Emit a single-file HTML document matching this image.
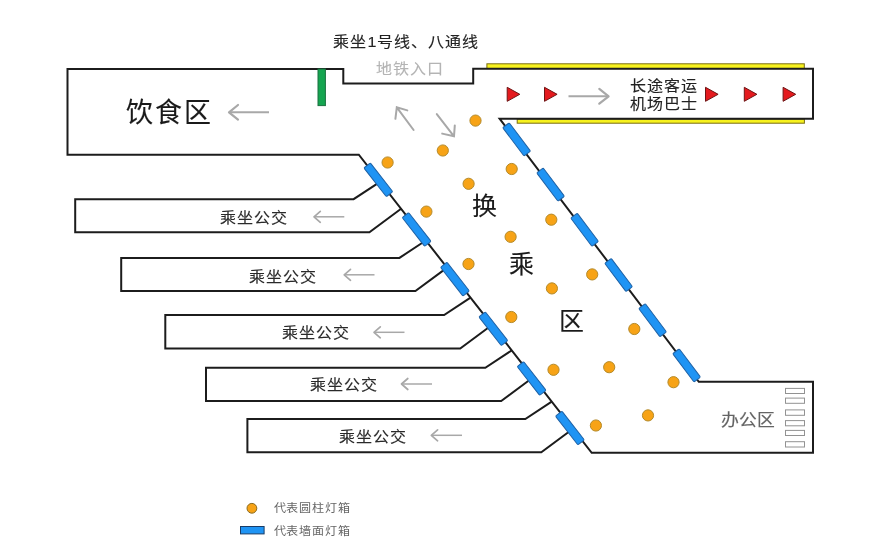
<!DOCTYPE html>
<html lang="zh-CN"><head><meta charset="utf-8"><title>换乘区示意图</title>
<style>html,body{margin:0;padding:0;background:#fff;width:881px;height:558px;overflow:hidden}svg{display:block;will-change:transform}text{font-family:"Liberation Sans",sans-serif;stroke:currentColor;stroke-width:0.12px}</style>
</head><body>
<svg width="881" height="558" viewBox="0 0 881 558">
<rect width="881" height="558" fill="#fff"/>
<rect x="486.9" y="63.8" width="317.4" height="4.8" fill="#f7f21e" stroke="#7a6c10" stroke-width="1"/>
<rect x="517.2" y="119.2" width="287.2" height="4.0" fill="#f7f21e" stroke="#7a6c10" stroke-width="1"/>
<path d="M67.5 154.7 L67.5 69 L343.3 69 L343.3 83.4 L473.2 83.4 L473.2 68.8 L813 68.8 L813 118.7 L499.6 118.7 L698.8 381.8 L813 381.8 L813 452.8 L591.7 452.8 L358.8 154.7 Z" fill="none" stroke="#1c1c1c" stroke-width="2" stroke-linejoin="miter"/>
<path d="M380.0 181.8 L353.6 199.2 L75.2 199.2 L75.2 232.3 L369.4 232.3 L401.1 208.8" fill="none" stroke="#1c1c1c" stroke-width="2"/>
<path d="M425.8 240.5 L399.4 257.9 L121.2 257.9 L121.2 291.1 L415.4 291.1 L447.1 267.6" fill="none" stroke="#1c1c1c" stroke-width="2"/>
<path d="M470.5 297.7 L444.1 315.1 L165.3 315.1 L165.3 348.5 L460.2 348.5 L491.9 325.0" fill="none" stroke="#1c1c1c" stroke-width="2"/>
<path d="M511.7 350.4 L485.3 367.8 L206 367.8 L206 401 L501.2 401 L532.9 377.5" fill="none" stroke="#1c1c1c" stroke-width="2"/>
<path d="M551.7 401.6 L525.3 419 L247.4 419 L247.4 452.3 L541.3 452.3 L573.0 428.8" fill="none" stroke="#1c1c1c" stroke-width="2"/>
<rect x="318" y="69" width="7.4" height="36.6" fill="#15a550" stroke="#1b7040" stroke-width="1"/>
<rect x="-18.2" y="-4.1" width="36.5" height="8.2" rx="1.2" fill="#1f94f4" stroke="#1f62a6" stroke-width="1" transform="translate(378.3 179.8) rotate(52.04)"/>
<rect x="-18.2" y="-4.1" width="36.5" height="8.2" rx="1.2" fill="#1f94f4" stroke="#1f62a6" stroke-width="1" transform="translate(416.6 229.4) rotate(52.04)"/>
<rect x="-18.2" y="-4.1" width="36.5" height="8.2" rx="1.2" fill="#1f94f4" stroke="#1f62a6" stroke-width="1" transform="translate(454.9 279.1) rotate(52.04)"/>
<rect x="-18.2" y="-4.1" width="36.5" height="8.2" rx="1.2" fill="#1f94f4" stroke="#1f62a6" stroke-width="1" transform="translate(493.3 328.7) rotate(52.04)"/>
<rect x="-18.2" y="-4.1" width="36.5" height="8.2" rx="1.2" fill="#1f94f4" stroke="#1f62a6" stroke-width="1" transform="translate(531.6 378.4) rotate(52.04)"/>
<rect x="-18.2" y="-4.1" width="36.5" height="8.2" rx="1.2" fill="#1f94f4" stroke="#1f62a6" stroke-width="1" transform="translate(569.9 428.0) rotate(52.04)"/>
<rect x="-17.7" y="-4.1" width="35.4" height="8.2" rx="1.2" fill="#1f94f4" stroke="#1f62a6" stroke-width="1" transform="translate(516.6 139.4) rotate(53.07)"/>
<rect x="-17.7" y="-4.1" width="35.4" height="8.2" rx="1.2" fill="#1f94f4" stroke="#1f62a6" stroke-width="1" transform="translate(550.6 184.6) rotate(53.07)"/>
<rect x="-17.7" y="-4.1" width="35.4" height="8.2" rx="1.2" fill="#1f94f4" stroke="#1f62a6" stroke-width="1" transform="translate(584.6 229.8) rotate(53.07)"/>
<rect x="-17.7" y="-4.1" width="35.4" height="8.2" rx="1.2" fill="#1f94f4" stroke="#1f62a6" stroke-width="1" transform="translate(618.6 275.0) rotate(53.07)"/>
<rect x="-17.7" y="-4.1" width="35.4" height="8.2" rx="1.2" fill="#1f94f4" stroke="#1f62a6" stroke-width="1" transform="translate(652.6 320.2) rotate(53.07)"/>
<rect x="-17.7" y="-4.1" width="35.4" height="8.2" rx="1.2" fill="#1f94f4" stroke="#1f62a6" stroke-width="1" transform="translate(686.6 365.4) rotate(53.07)"/>
<circle cx="475.5" cy="120.6" r="5.6" fill="#f7a316" stroke="#b48a2a" stroke-width="1"/>
<circle cx="387.6" cy="162.5" r="5.6" fill="#f7a316" stroke="#b48a2a" stroke-width="1"/>
<circle cx="442.8" cy="150.5" r="5.6" fill="#f7a316" stroke="#b48a2a" stroke-width="1"/>
<circle cx="468.6" cy="183.8" r="5.6" fill="#f7a316" stroke="#b48a2a" stroke-width="1"/>
<circle cx="511.7" cy="169" r="5.6" fill="#f7a316" stroke="#b48a2a" stroke-width="1"/>
<circle cx="426.4" cy="211.6" r="5.6" fill="#f7a316" stroke="#b48a2a" stroke-width="1"/>
<circle cx="551.3" cy="219.7" r="5.6" fill="#f7a316" stroke="#b48a2a" stroke-width="1"/>
<circle cx="510.6" cy="236.8" r="5.6" fill="#f7a316" stroke="#b48a2a" stroke-width="1"/>
<circle cx="468.5" cy="264" r="5.6" fill="#f7a316" stroke="#b48a2a" stroke-width="1"/>
<circle cx="592.2" cy="274.4" r="5.6" fill="#f7a316" stroke="#b48a2a" stroke-width="1"/>
<circle cx="551.9" cy="288.4" r="5.6" fill="#f7a316" stroke="#b48a2a" stroke-width="1"/>
<circle cx="511.3" cy="317" r="5.6" fill="#f7a316" stroke="#b48a2a" stroke-width="1"/>
<circle cx="634.3" cy="329" r="5.6" fill="#f7a316" stroke="#b48a2a" stroke-width="1"/>
<circle cx="553.5" cy="369.8" r="5.6" fill="#f7a316" stroke="#b48a2a" stroke-width="1"/>
<circle cx="609.2" cy="367.2" r="5.6" fill="#f7a316" stroke="#b48a2a" stroke-width="1"/>
<circle cx="673.5" cy="382.2" r="5.6" fill="#f7a316" stroke="#b48a2a" stroke-width="1"/>
<circle cx="595.9" cy="425.5" r="5.6" fill="#f7a316" stroke="#b48a2a" stroke-width="1"/>
<circle cx="648" cy="415.4" r="5.6" fill="#f7a316" stroke="#b48a2a" stroke-width="1"/>
<path d="M507.2 87.3 L507.2 101.3 L519.8 94.3 Z" fill="#e41a1e" stroke="#6e1414" stroke-width="1" stroke-linejoin="miter"/>
<path d="M544.5 87.3 L544.5 101.3 L557.1 94.3 Z" fill="#e41a1e" stroke="#6e1414" stroke-width="1" stroke-linejoin="miter"/>
<path d="M705.5 87.3 L705.5 101.3 L718.1 94.3 Z" fill="#e41a1e" stroke="#6e1414" stroke-width="1" stroke-linejoin="miter"/>
<path d="M744.3 87.3 L744.3 101.3 L756.9 94.3 Z" fill="#e41a1e" stroke="#6e1414" stroke-width="1" stroke-linejoin="miter"/>
<path d="M783.1 87.3 L783.1 101.3 L795.7 94.3 Z" fill="#e41a1e" stroke="#6e1414" stroke-width="1" stroke-linejoin="miter"/>
<path d="M269 112.3 L229.5 112.3" stroke="#a8a8a8" stroke-width="2" fill="none"/><path d="M238.0 105.0 L229 112.3 L238.0 119.6" stroke="#a8a8a8" stroke-width="2.2" fill="none" stroke-linejoin="round" stroke-linecap="round"/>
<path d="M568.5 96.3 L608.1 96.3" stroke="#a8a8a8" stroke-width="2" fill="none"/><path d="M599.3 88.89999999999999 L608.6 96.3 L599.3 103.7" stroke="#a8a8a8" stroke-width="2.2" fill="none" stroke-linejoin="round" stroke-linecap="round"/>
<path d="M344.3 216.8 L314.5 216.8" stroke="#a8a8a8" stroke-width="1.5" fill="none"/><path d="M320.3 211.3 L314 216.8 L320.3 222.3" stroke="#a8a8a8" stroke-width="1.7" fill="none" stroke-linejoin="round" stroke-linecap="round"/>
<path d="M374.5 274.8 L344.7 274.8" stroke="#a8a8a8" stroke-width="1.5" fill="none"/><path d="M350.5 269.3 L344.2 274.8 L350.5 280.3" stroke="#a8a8a8" stroke-width="1.7" fill="none" stroke-linejoin="round" stroke-linecap="round"/>
<path d="M404.5 332.3 L374.5 332.3" stroke="#a8a8a8" stroke-width="1.5" fill="none"/><path d="M380.3 326.8 L374 332.3 L380.3 337.8" stroke="#a8a8a8" stroke-width="1.7" fill="none" stroke-linejoin="round" stroke-linecap="round"/>
<path d="M432 384 L402.0 384" stroke="#a8a8a8" stroke-width="1.5" fill="none"/><path d="M407.8 378.5 L401.5 384 L407.8 389.5" stroke="#a8a8a8" stroke-width="1.7" fill="none" stroke-linejoin="round" stroke-linecap="round"/>
<path d="M462 435.3 L431.8 435.3" stroke="#a8a8a8" stroke-width="1.5" fill="none"/><path d="M437.6 429.8 L431.3 435.3 L437.6 440.8" stroke="#a8a8a8" stroke-width="1.7" fill="none" stroke-linejoin="round" stroke-linecap="round"/>
<path d="M413.6 130 L396.8 107.3 M395.4 118.8 L396.8 107.3 L407.3 110.4" stroke="#a8a8a8" stroke-width="2" fill="none" stroke-linecap="round"/>
<path d="M436.8 114.1 L454 136.3 M454.8 125.4 L454 136.3 L442.2 133.6" stroke="#a8a8a8" stroke-width="2" fill="none" stroke-linecap="round"/>
<rect x="785.5" y="388.4" width="19" height="5.1" fill="none" stroke="#929292" stroke-width="1"/>
<rect x="785.5" y="398.1" width="19" height="5.2" fill="none" stroke="#929292" stroke-width="1"/>
<rect x="785.5" y="409.9" width="19" height="5.4" fill="none" stroke="#929292" stroke-width="1"/>
<rect x="785.5" y="420.6" width="19" height="5.2" fill="none" stroke="#929292" stroke-width="1"/>
<rect x="785.5" y="430.4" width="19" height="5.1" fill="none" stroke="#929292" stroke-width="1"/>
<rect x="785.5" y="441.7" width="19" height="5.3" fill="none" stroke="#929292" stroke-width="1"/>
<circle cx="251.9" cy="508.3" r="4.9" fill="#f7a316" stroke="#8a6a1e" stroke-width="1"/>
<rect x="240.5" y="526.5" width="23.6" height="7.4" fill="#1f94f4" stroke="#1a3c66" stroke-width="1"/>
<text transform="translate(333.3 47.3) scale(1.07 1)" x="0" y="0" font-size="15" fill="#222" color="#222" style="letter-spacing:0.53px" font-family="Liberation Sans, sans-serif" >乘坐1号线、八通线</text>
<text transform="translate(376.3 73.9) scale(1.07 1)" x="0" y="0" font-size="15" fill="#b4b4b4" color="#b4b4b4" style="letter-spacing:0.35px;stroke-width:0.1px" font-family="Liberation Sans, sans-serif" >地铁入口</text>
<text x="126" y="122.1" font-size="27" fill="#1a1a1a" color="#1a1a1a" style="letter-spacing:2.2px" font-family="Liberation Sans, sans-serif" >饮食区</text>
<text transform="translate(629.8 91.4) scale(1.07 1)" x="0" y="0" font-size="15" fill="#222" color="#222" style="letter-spacing:0.4px" font-family="Liberation Sans, sans-serif" >长途客运</text>
<text transform="translate(629.8 108.9) scale(1.07 1)" x="0" y="0" font-size="15" fill="#222" color="#222" style="letter-spacing:0.4px" font-family="Liberation Sans, sans-serif" >机场巴士</text>
<text x="471.5" y="214.8" font-size="25" fill="#1a1a1a" color="#1a1a1a" font-family="Liberation Sans, sans-serif" >换</text>
<text x="509.3" y="272.6" font-size="25" fill="#1a1a1a" color="#1a1a1a" font-family="Liberation Sans, sans-serif" >乘</text>
<text x="558.6" y="329.8" font-size="25" fill="#1a1a1a" color="#1a1a1a" font-family="Liberation Sans, sans-serif" >区</text>
<text transform="translate(220.4 222.8) scale(1.07 1)" x="0" y="0" font-size="15" fill="#2a2a2a" color="#2a2a2a" style="letter-spacing:0.45px" font-family="Liberation Sans, sans-serif" >乘坐公交</text>
<text transform="translate(248.70000000000002 281.5) scale(1.07 1)" x="0" y="0" font-size="15" fill="#2a2a2a" color="#2a2a2a" style="letter-spacing:0.45px" font-family="Liberation Sans, sans-serif" >乘坐公交</text>
<text transform="translate(281.6 337.5) scale(1.07 1)" x="0" y="0" font-size="15" fill="#2a2a2a" color="#2a2a2a" style="letter-spacing:0.45px" font-family="Liberation Sans, sans-serif" >乘坐公交</text>
<text transform="translate(310.40000000000003 389.5) scale(1.07 1)" x="0" y="0" font-size="15" fill="#2a2a2a" color="#2a2a2a" style="letter-spacing:0.45px" font-family="Liberation Sans, sans-serif" >乘坐公交</text>
<text transform="translate(338.7 441.5) scale(1.07 1)" x="0" y="0" font-size="15" fill="#2a2a2a" color="#2a2a2a" style="letter-spacing:0.45px" font-family="Liberation Sans, sans-serif" >乘坐公交</text>
<text transform="translate(721.1 426.3) scale(1.05 1)" x="0" y="0" font-size="17" fill="#646464" color="#646464" style="letter-spacing:0.75px;stroke-width:0.15px" font-family="Liberation Sans, sans-serif" >办公区</text>
<text transform="translate(273.7 511.7) scale(1.05 1)" x="0" y="0" font-size="11.5" fill="#666666" color="#666666" style="letter-spacing:0.45px;stroke-width:0px" font-family="Liberation Sans, sans-serif" >代表圆柱灯箱</text>
<text transform="translate(273.7 534.9) scale(1.05 1)" x="0" y="0" font-size="11.5" fill="#666666" color="#666666" style="letter-spacing:0.45px;stroke-width:0px" font-family="Liberation Sans, sans-serif" >代表墙面灯箱</text>
</svg>
</body></html>
